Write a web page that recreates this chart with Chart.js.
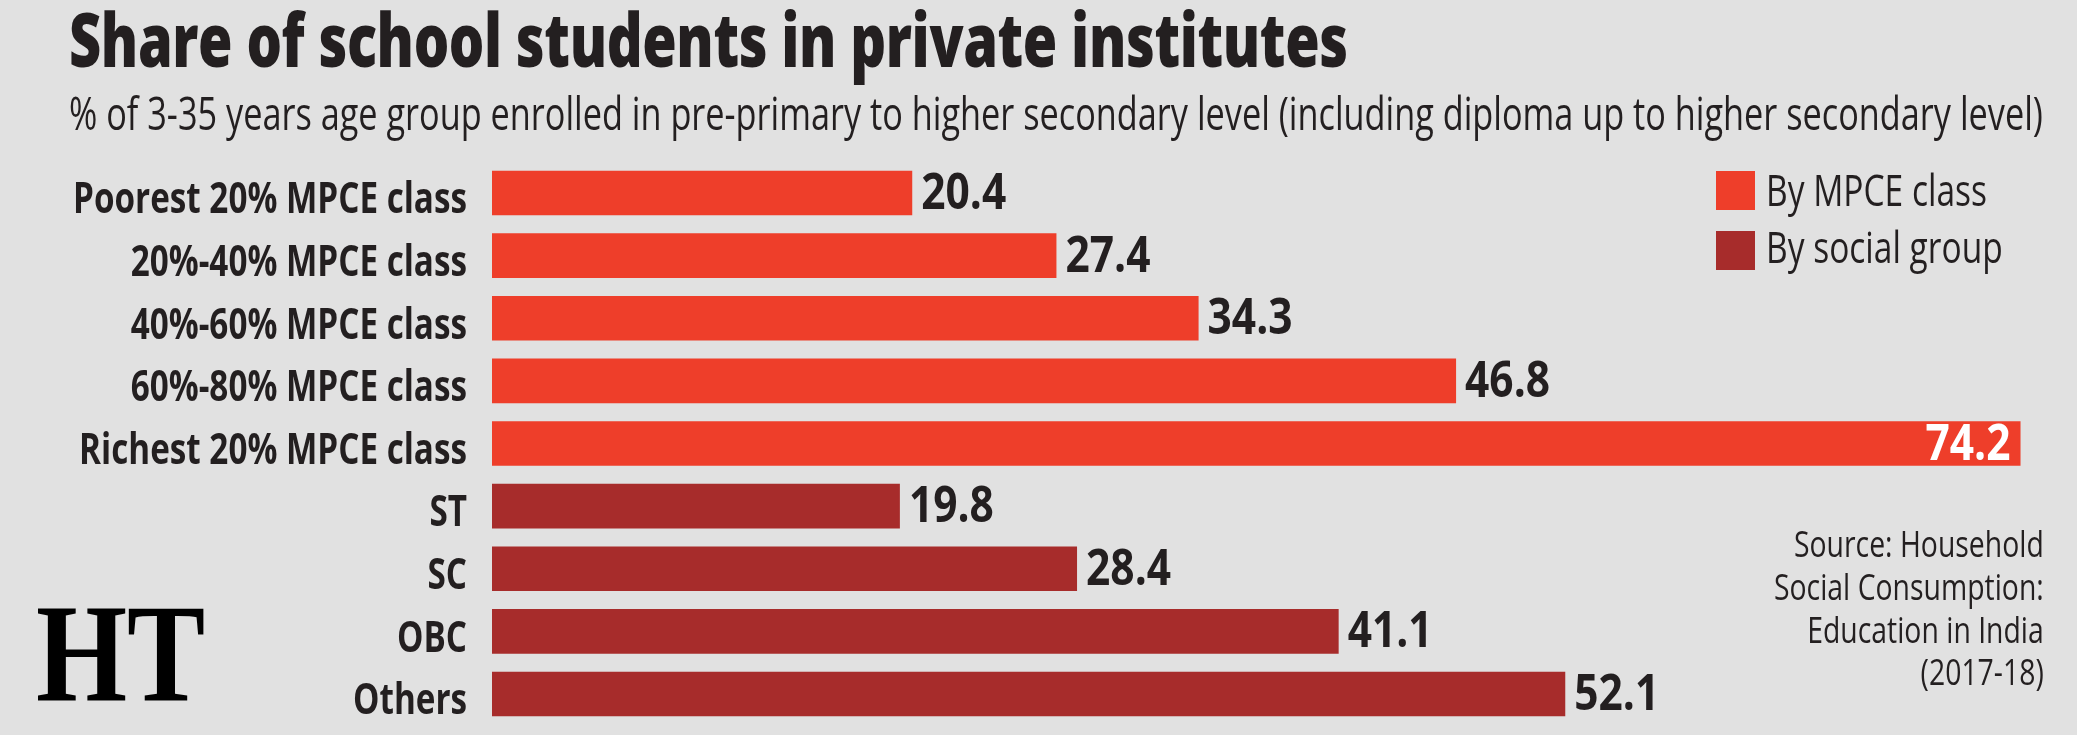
<!DOCTYPE html>
<html>
<head>
<meta charset="utf-8">
<script src="https://cdn.jsdelivr.net/npm/chart.js@4.4.1/dist/chart.umd.min.js"></script>
<style>
  html, body { margin:0; padding:0; background:#e1e1e1; width:2077px; height:735px; overflow:hidden; }
  #wrap { position:absolute; left:0; top:0; width:2077px; height:735px; }
  .txt { position:absolute; white-space:nowrap; color:#231f20; line-height:1; display:inline-block; }
  #title { left:69px; top:2px; font-family:"Open Sans"; font-weight:800; font-size:74px; transform-origin:0 0; letter-spacing:-0.5px; }
  #subtitle { left:69px; top:89px; font-family:"Open Sans"; font-weight:400; font-size:46px; transform-origin:0 0; }
  #source { right:33px; top:522px; font-family:"Open Sans"; font-weight:400; font-size:37px; line-height:42.8px; text-align:right; transform-origin:100% 0; }
  #logo { left:36px; top:583px; font-family:"Liberation Serif","DejaVu Serif",serif; font-weight:700; font-size:140px; color:#000; transform-origin:0 0; }
</style>
</head>
<body>
<div id="wrap"><canvas id="chart"></canvas></div>
<div id="title" class="txt" data-w="1279">Share of school students in private institutes</div>
<div id="subtitle" class="txt" data-w="1974">% of 3-35 years age group enrolled in pre-primary to higher secondary level (including diploma up to higher secondary level)</div>
<div id="source" class="txt" data-w="270">Source: Household<br>Social Consumption:<br>Education in India<br>(2017-18)</div>
<div id="logo" class="txt" data-w="169">HT</div>
<script>
// ---- data ----
const categories = [
  "Poorest 20% MPCE class",
  "20%-40% MPCE class",
  "40%-60% MPCE class",
  "60%-80% MPCE class",
  "Richest 20% MPCE class",
  "ST",
  "SC",
  "OBC",
  "Others"
];
const mpceValues   = [20.4, 27.4, 34.3, 46.8, 74.2, null, null, null, null];
const socialValues = [null, null, null, null, null, 19.8, 28.4, 41.1, 52.1];
const seriesNames  = ["By MPCE class", "By social group"];
const seriesColors = ["#ee3e2a", "#a72c2b"];

// ---- styling constants ----
const TEXT = "#231f20";
const FONT = '"Open Sans"';

function fitDom() {
  document.querySelectorAll('.txt[data-w]').forEach(el => {
    el.style.transform = 'none';
    const w = el.offsetWidth;
    const target = parseFloat(el.dataset.w);
    if (w > 0) el.style.transform = 'scaleX(' + (target / w) + ')';
  });
}

// squeeze y-axis tick labels horizontally around their right-aligned anchor
const squeezeTicks = {
  id: 'squeezeTicks',
  beforeDraw(chart) {
    const s = chart.scales.y;
    if (!s || s._squeezed) return;
    const orig = s.drawLabels.bind(s);
    s._computeLabelArea = function () { return undefined; };
    s.drawLabels = function (area) {
      const ctx = chart.ctx;
      ctx.save();
      ctx.font = '700 43px ' + FONT;
      let maxW = 0;
      chart.data.labels.forEach(l => { maxW = Math.max(maxW, ctx.measureText(l).width); });
      ctx.restore();
      const sx = 394 / maxW;
      const anchor = s.right - s.options.ticks.padding;
      ctx.save();
      ctx.translate(anchor, 0);
      ctx.scale(sx, 1);
      ctx.translate(-anchor, 0);
      orig(area);
      ctx.restore();
    };
    s._squeezed = true;
  }
};

const valueLabels = {
  id: 'valueLabels',
  afterDatasetsDraw(chart) {
    const ctx = chart.ctx;
    ctx.save();
    ctx.font = '700 50px ' + FONT;
    const sx = 85 / ctx.measureText('20.4').width;
    chart.data.datasets.forEach((ds, di) => {
      const meta = chart.getDatasetMeta(di);
      meta.data.forEach((bar, i) => {
        const v = ds.data[i];
        if (v === null || v === undefined) return;
        const txt = v.toFixed(1);
        const w = ctx.measureText(txt).width * sx;
        let x, color;
        if (bar.x + 9 + w > chart.width - 10) { x = bar.x - 10 - w; color = '#ffffff'; }
        else { x = bar.x + 9; color = TEXT; }
        ctx.save();
        ctx.translate(x, bar.y + 16);
        ctx.scale(sx, 1);
        ctx.fillStyle = color;
        ctx.textAlign = 'left';
        ctx.textBaseline = 'alphabetic';
        ctx.fillText(txt, 0, 0);
        ctx.restore();
      });
    });
    ctx.restore();
  }
};

const legendBoxes = {
  id: 'legendBoxes',
  afterDraw(chart) {
    const ctx = chart.ctx;
    ctx.save();
    ctx.font = '400 43px ' + FONT;
    const sx = 221 / ctx.measureText(chart.data.datasets[0].label).width;
    chart.data.datasets.forEach((ds, i) => {
      const top = 171 + i * 60;
      ctx.fillStyle = ds.backgroundColor;
      ctx.fillRect(1716, top, 39, 39);
      ctx.save();
      ctx.translate(1766, top + 35 - i * 3);
      ctx.scale(sx, 1);
      ctx.fillStyle = TEXT;
      ctx.textAlign = 'left';
      ctx.textBaseline = 'alphabetic';
      ctx.fillText(ds.label, 0, 0);
      ctx.restore();
    });
    ctx.restore();
  }
};

function build() {
  fitDom();
  new Chart(document.getElementById('chart'), {
    type: 'bar',
    data: {
      labels: categories,
      datasets: [
        { label: seriesNames[0], data: mpceValues,   backgroundColor: seriesColors[0] },
        { label: seriesNames[1], data: socialValues, backgroundColor: seriesColors[1] }
      ]
    },
    options: {
      indexAxis: 'y',
      responsive: true,
      maintainAspectRatio: false,
      devicePixelRatio: 1,
      animation: false,
      grouped: false,
      barPercentage: 0.712,
      categoryPercentage: 1.0,
      layout: { padding: { left: 0, right: 40, top: 161.7, bottom: 9.7 } },
      plugins: { legend: { display: false }, tooltip: { enabled: false } },
      scales: {
        x: { display: false, min: 0, max: 75 },
        y: {
          display: true,
          grid: { display: false, drawTicks: false },
          border: { display: false },
          ticks: { padding: 25, labelOffset: 8, color: TEXT, font: { family: FONT, weight: '700', size: 43 } },
          afterFit(s) { s.width = 492; s.paddingTop = 0; s.paddingBottom = 0; }
        }
      }
    },
    plugins: [squeezeTicks, valueLabels, legendBoxes]
  });
}

if (document.fonts && document.fonts.ready) {
  document.fonts.ready.then(build);
} else {
  build();
}
</script>
</body>
</html>
